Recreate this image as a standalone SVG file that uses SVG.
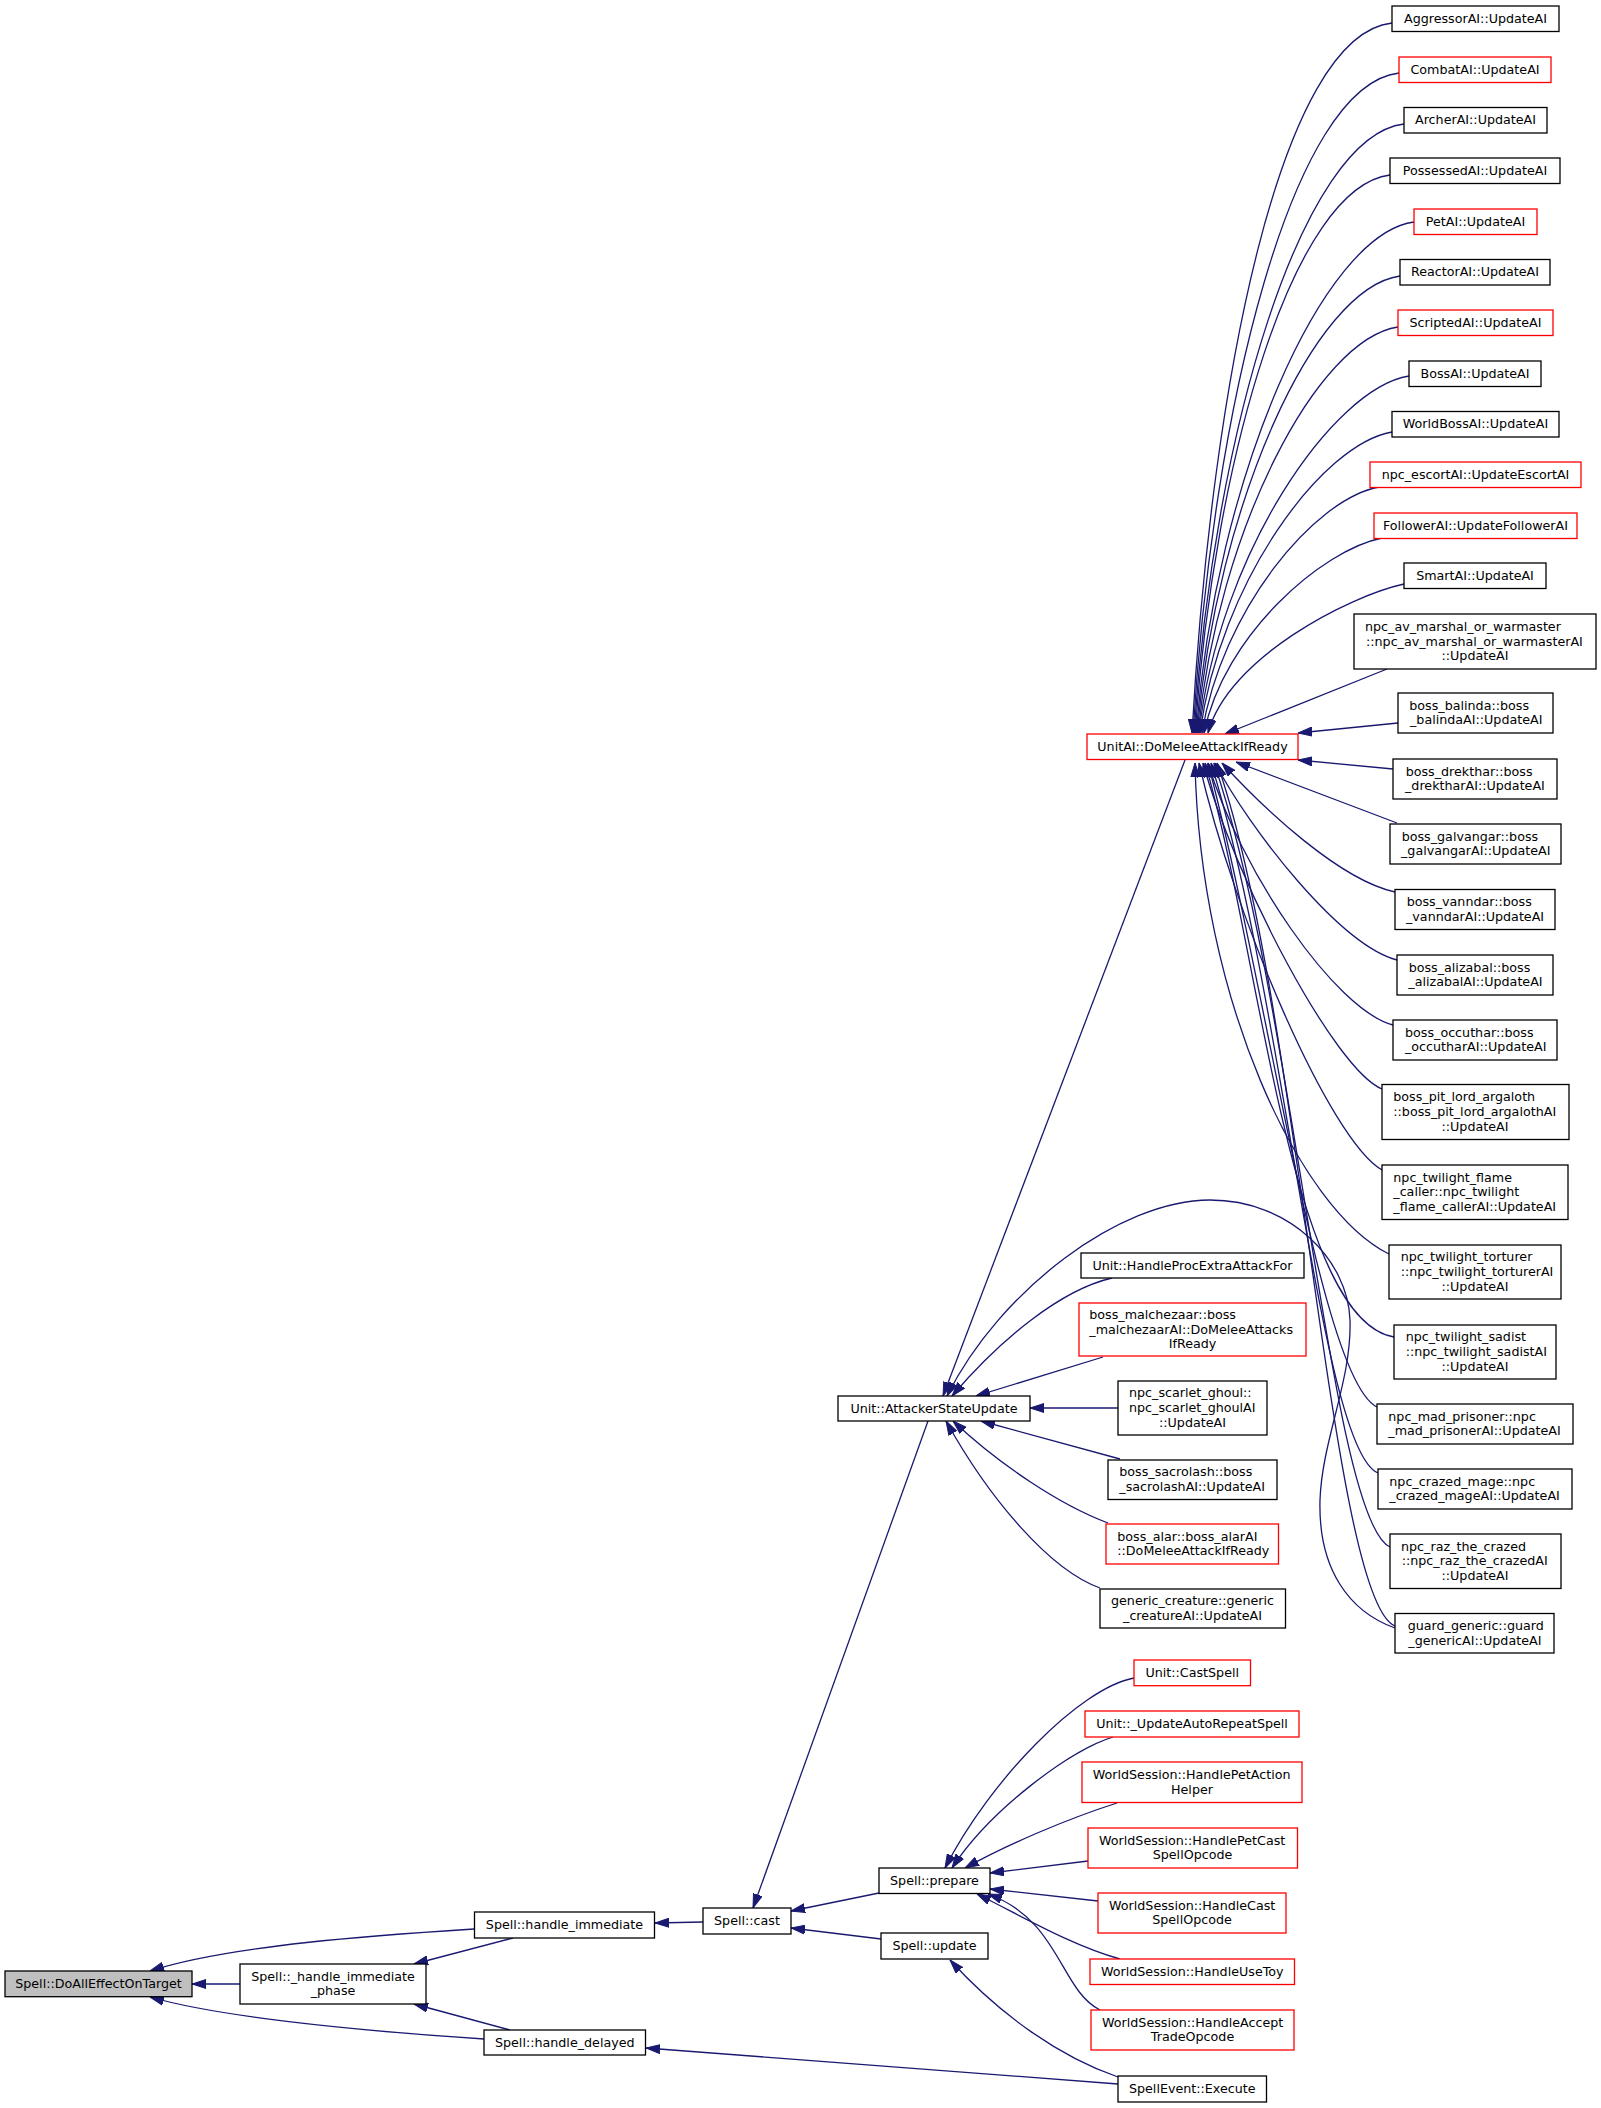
<svg xmlns="http://www.w3.org/2000/svg" width="1601" height="2108" viewBox="0 0 1601 2108">
<style>
.e{fill:none;stroke:#191970;stroke-width:1.3}
.nb{fill:#fff;stroke:#000;stroke-width:1.3}
.nr{fill:#fff;stroke:#ff0000;stroke-width:1.3}
.ng{fill:#bfbfbf;stroke:#000;stroke-width:1.3}
text{font-family:"DejaVu Sans","Liberation Sans",sans-serif;font-size:12.7px;fill:#000}
.m{text-anchor:middle}
</style>
<defs>
<marker id="a" markerUnits="userSpaceOnUse" markerWidth="14" markerHeight="10" viewBox="0 0 14 10" refX="14" refY="5" orient="auto"><path d="M0,0.5 L14,5 L0,9.5 z" fill="#191970" stroke="#191970" stroke-width="1"/></marker>
</defs>
<rect width="1601" height="2108" fill="#fff"/>
<g id="edges">
<path class="e" marker-end="url(#a)" d="M1392,23 C1281,35 1212,378 1192,733"/>
<path class="e" marker-end="url(#a)" d="M1399,73 C1293,85 1213,403 1193,733"/>
<path class="e" marker-end="url(#a)" d="M1404,124 C1303,136 1214,428 1194,733"/>
<path class="e" marker-end="url(#a)" d="M1390,175 C1294,187 1215,454 1195,733"/>
<path class="e" marker-end="url(#a)" d="M1414,222 C1323,234 1216,477 1196,733"/>
<path class="e" marker-end="url(#a)" d="M1400,276 C1314,288 1217,504 1197,733"/>
<path class="e" marker-end="url(#a)" d="M1398,327 C1317,339 1218,530 1198,733"/>
<path class="e" marker-end="url(#a)" d="M1409,376 C1333,388 1219,554 1199,733"/>
<path class="e" marker-end="url(#a)" d="M1392,432 C1322,444 1220,582 1200,733"/>
<path class="e" marker-end="url(#a)" d="M1379,487 C1314,499 1222,610 1202,733"/>
<path class="e" marker-end="url(#a)" d="M1382,538 C1322,550 1224,635 1204,733"/>
<path class="e" marker-end="url(#a)" d="M1404,584 C1349,596 1228,658 1208,733"/>
<path class="e" marker-end="url(#a)" d="M1387,669 L1225,734"/>
<path class="e" marker-end="url(#a)" d="M1398,723 L1298,733"/>
<path class="e" marker-end="url(#a)" d="M1393,769 L1298,760"/>
<path class="e" marker-end="url(#a)" d="M1397,823 L1236,762"/>
<path class="e" marker-end="url(#a)" d="M1395,892 C1340,880 1265,810 1222,763"/>
<path class="e" marker-end="url(#a)" d="M1397,960 C1340,945 1250,830 1215,763"/>
<path class="e" marker-end="url(#a)" d="M1393,1025 C1335,1010 1240,870 1208,763"/>
<path class="e" marker-end="url(#a)" d="M1382,1089 C1335,1070 1235,880 1203,763"/>
<path class="e" marker-end="url(#a)" d="M1382,1170 C1330,1140 1235,920 1199,763"/>
<path class="e" marker-end="url(#a)" d="M1389,1254 C1300,1210 1200,1000 1195,763"/>
<path class="e" marker-end="url(#a)" d="M1394,1337 C1290,1320 1260,950 1205,763"/>
<path class="e" marker-end="url(#a)" d="M1377,1407 C1320,1380 1270,1000 1208,763"/>
<path class="e" marker-end="url(#a)" d="M1378,1473 C1320,1450 1285,1000 1211,763"/>
<path class="e" marker-end="url(#a)" d="M1390,1547 C1330,1520 1295,1000 1214,763"/>
<path class="e" marker-end="url(#a)" d="M1395,1626 C1330,1600 1300,1000 1217,763"/>
<path class="e" marker-end="url(#a)" d="M1185,760 L943,1396"/>
<path class="e" marker-end="url(#a)" d="M1112,1278 C1060,1290 1000,1340 952,1396"/>
<path class="e" marker-end="url(#a)" d="M1103,1357 L976,1396"/>
<path class="e" marker-end="url(#a)" d="M1118,1408 L1030,1408"/>
<path class="e" marker-end="url(#a)" d="M1120,1459 L981,1421"/>
<path class="e" marker-end="url(#a)" d="M1108,1523 C1060,1505 1000,1465 953,1421"/>
<path class="e" marker-end="url(#a)" d="M1100,1588 C1050,1570 990,1500 946,1421"/>
<path class="e" marker-end="url(#a)" d="M1395,1628 C1350,1612 1318,1570 1320,1500 C1322,1440 1352,1380 1350,1320 C1348,1260 1290,1200 1210,1200 C1120,1200 1000,1290 947,1396"/>
<path class="e" marker-end="url(#a)" d="M1134,1678 C1080,1688 990,1780 945,1868"/>
<path class="e" marker-end="url(#a)" d="M1113,1737 C1070,1750 990,1810 952,1868"/>
<path class="e" marker-end="url(#a)" d="M1117,1803 C1070,1818 1010,1843 965,1868"/>
<path class="e" marker-end="url(#a)" d="M1088,1861 L990,1873"/>
<path class="e" marker-end="url(#a)" d="M1098,1901 L990,1889"/>
<path class="e" marker-end="url(#a)" d="M1120,1959 C1070,1945 1020,1915 977,1894"/>
<path class="e" marker-end="url(#a)" d="M1100,2010 C1060,1990 1060,1920 988,1894"/>
<path class="e" marker-end="url(#a)" d="M1118,2077 C1060,2057 1000,2015 950,1960"/>
<path class="e" marker-end="url(#a)" d="M879,1893 L791,1911"/>
<path class="e" marker-end="url(#a)" d="M881,1939 L791,1928"/>
<path class="e" marker-end="url(#a)" d="M928,1421 L753,1908"/>
<path class="e" marker-end="url(#a)" d="M703,1922 L655,1923"/>
<path class="e" marker-end="url(#a)" d="M1118,2084 L646,2048"/>
<path class="e" marker-end="url(#a)" d="M513,1938 L414,1964"/>
<path class="e" marker-end="url(#a)" d="M510,2030 L414,2004"/>
<path class="e" marker-end="url(#a)" d="M240,1984 L192,1984"/>
<path class="e" marker-end="url(#a)" d="M474,1929 C380,1935 230,1945 150,1971"/>
<path class="e" marker-end="url(#a)" d="M484,2039 C380,2032 230,2020 150,1997"/>
</g>
<g id="n1"><rect class="nb" x="1392" y="6" width="167" height="25.5"/><text class="m" x="1475.5" y="22.75">AggressorAI::UpdateAI</text></g>
<g id="n2"><rect class="nr" x="1399" y="57" width="152" height="25.5"/><text class="m" x="1475" y="73.75">CombatAI::UpdateAI</text></g>
<g id="n3"><rect class="nb" x="1404" y="107.5" width="143" height="25.5"/><text class="m" x="1475.5" y="124.25">ArcherAI::UpdateAI</text></g>
<g id="n4"><rect class="nb" x="1390" y="158" width="170" height="25.5"/><text class="m" x="1475" y="174.75">PossessedAI::UpdateAI</text></g>
<g id="n5"><rect class="nr" x="1414" y="209" width="123" height="25.5"/><text class="m" x="1475.5" y="225.75">PetAI::UpdateAI</text></g>
<g id="n6"><rect class="nb" x="1400" y="259.5" width="150" height="25.5"/><text class="m" x="1475" y="276.25">ReactorAI::UpdateAI</text></g>
<g id="n7"><rect class="nr" x="1398" y="310" width="155" height="25.5"/><text class="m" x="1475.5" y="326.75">ScriptedAI::UpdateAI</text></g>
<g id="n8"><rect class="nb" x="1409" y="361" width="132" height="25.5"/><text class="m" x="1475" y="377.75">BossAI::UpdateAI</text></g>
<g id="n9"><rect class="nb" x="1392" y="411.5" width="167" height="25.5"/><text class="m" x="1475.5" y="428.25">WorldBossAI::UpdateAI</text></g>
<g id="n10"><rect class="nr" x="1370" y="462" width="211" height="25.5"/><text class="m" x="1475.5" y="478.75">npc_escortAI::UpdateEscortAI</text></g>
<g id="n11"><rect class="nr" x="1374" y="513" width="203" height="25.5"/><text class="m" x="1475.5" y="529.75">FollowerAI::UpdateFollowerAI</text></g>
<g id="n12"><rect class="nb" x="1404" y="563" width="142" height="25.5"/><text class="m" x="1475" y="579.75">SmartAI::UpdateAI</text></g>
<g id="n13"><rect class="nb" x="1354" y="614" width="242" height="55"/><text x="1365" y="630.9">npc_av_marshal_or_warmaster</text><text x="1366" y="645.5">::npc_av_marshal_or_warmasterAI</text><text class="m" x="1475" y="660.1">::UpdateAI</text></g>
<g id="n14"><rect class="nb" x="1398" y="693" width="155" height="40"/><text x="1409.3" y="709.7">boss_balinda::boss</text><text x="1410" y="724.3">_balindaAI::UpdateAI</text></g>
<g id="n15"><rect class="nb" x="1393" y="759" width="164" height="40"/><text x="1405.7" y="775.7">boss_drekthar::boss</text><text x="1405" y="790.3">_drektharAI::UpdateAI</text></g>
<g id="n16"><rect class="nb" x="1390" y="824" width="171" height="40"/><text x="1401.7" y="840.7">boss_galvangar::boss</text><text x="1401" y="855.3">_galvangarAI::UpdateAI</text></g>
<g id="n17"><rect class="nb" x="1395" y="889.5" width="160" height="40"/><text x="1406.7" y="906.2">boss_vanndar::boss</text><text x="1406" y="920.8">_vanndarAI::UpdateAI</text></g>
<g id="n18"><rect class="nb" x="1397" y="955" width="156" height="40"/><text x="1408.7" y="971.7">boss_alizabal::boss</text><text x="1408.3" y="986.3">_alizabalAI::UpdateAI</text></g>
<g id="n19"><rect class="nb" x="1393" y="1020" width="164" height="40"/><text x="1405" y="1036.7">boss_occuthar::boss</text><text x="1405" y="1051.3">_occutharAI::UpdateAI</text></g>
<g id="n20"><rect class="nb" x="1382" y="1084.5" width="187" height="55"/><text x="1393.3" y="1101.4">boss_pit_lord_argaloth</text><text x="1393.3" y="1116">::boss_pit_lord_argalothAI</text><text class="m" x="1475" y="1130.6">::UpdateAI</text></g>
<g id="n21"><rect class="nb" x="1382" y="1165" width="186" height="54.5"/><text x="1393.3" y="1181.65">npc_twilight_flame</text><text x="1393.3" y="1196.25">_caller::npc_twilight</text><text x="1393.3" y="1210.85">_flame_callerAI::UpdateAI</text></g>
<g id="n22"><rect class="nb" x="1389" y="1245" width="172" height="54"/><text x="1400.7" y="1261.4">npc_twilight_torturer</text><text x="1400.7" y="1276">::npc_twilight_torturerAI</text><text class="m" x="1475" y="1290.6">::UpdateAI</text></g>
<g id="n23"><rect class="nb" x="1394" y="1325" width="162" height="54"/><text x="1405.7" y="1341.4">npc_twilight_sadist</text><text x="1405.7" y="1356">::npc_twilight_sadistAI</text><text class="m" x="1475" y="1370.6">::UpdateAI</text></g>
<g id="n24"><rect class="nb" x="1377" y="1404" width="196" height="40"/><text x="1388.3" y="1420.7">npc_mad_prisoner::npc</text><text x="1388.3" y="1435.3">_mad_prisonerAI::UpdateAI</text></g>
<g id="n25"><rect class="nb" x="1378" y="1469" width="194" height="40"/><text x="1389.3" y="1485.7">npc_crazed_mage::npc</text><text x="1389.3" y="1500.3">_crazed_mageAI::UpdateAI</text></g>
<g id="n26"><rect class="nb" x="1390" y="1534" width="171" height="54.5"/><text x="1401" y="1550.65">npc_raz_the_crazed</text><text x="1401.7" y="1565.25">::npc_raz_the_crazedAI</text><text class="m" x="1475" y="1579.85">::UpdateAI</text></g>
<g id="n27"><rect class="nb" x="1395" y="1613.5" width="159" height="39.5"/><text x="1407.7" y="1629.95">guard_generic::guard</text><text x="1408.3" y="1644.55">_genericAI::UpdateAI</text></g>
<g id="n28"><rect class="nr" x="1087" y="734" width="211" height="25.5"/><text class="m" x="1192.5" y="750.75">UnitAI::DoMeleeAttackIfReady</text></g>
<g id="n29"><rect class="nb" x="1081" y="1253" width="223" height="25"/><text class="m" x="1192.5" y="1269.5">Unit::HandleProcExtraAttackFor</text></g>
<g id="n30"><rect class="nr" x="1079" y="1303" width="227" height="53"/><text x="1089.3" y="1318.9">boss_malchezaar::boss</text><text x="1089.3" y="1333.5">_malchezaarAI::DoMeleeAttacks</text><text class="m" x="1192.5" y="1348.1">IfReady</text></g>
<g id="n31"><rect class="nb" x="1118" y="1381" width="149" height="54"/><text x="1129" y="1397.4">npc_scarlet_ghoul::</text><text x="1129" y="1412">npc_scarlet_ghoulAI</text><text class="m" x="1192.5" y="1426.6">::UpdateAI</text></g>
<g id="n32"><rect class="nb" x="1108" y="1460" width="169" height="39.5"/><text x="1119.3" y="1476.45">boss_sacrolash::boss</text><text x="1119.3" y="1491.05">_sacrolashAI::UpdateAI</text></g>
<g id="n33"><rect class="nr" x="1106" y="1524" width="172.5" height="40"/><text x="1117.3" y="1540.7">boss_alar::boss_alarAI</text><text x="1117.3" y="1555.3">::DoMeleeAttackIfReady</text></g>
<g id="n34"><rect class="nb" x="1100" y="1589" width="185.5" height="39"/><text class="m" x="1192.5" y="1605.2">generic_creature::generic</text><text class="m" x="1192.5" y="1619.8">_creatureAI::UpdateAI</text></g>
<g id="n35"><rect class="nr" x="1134" y="1660" width="116.5" height="25.7"/><text class="m" x="1192.25" y="1676.85">Unit::CastSpell</text></g>
<g id="n36"><rect class="nr" x="1085" y="1711" width="214" height="26"/><text class="m" x="1192" y="1728">Unit::_UpdateAutoRepeatSpell</text></g>
<g id="n37"><rect class="nr" x="1082" y="1762" width="220" height="40.5"/><text x="1092.7" y="1778.95">WorldSession::HandlePetAction</text><text class="m" x="1192" y="1793.55">Helper</text></g>
<g id="n38"><rect class="nr" x="1088" y="1828" width="209.5" height="40"/><text x="1099" y="1844.7">WorldSession::HandlePetCast</text><text class="m" x="1192.5" y="1859.3">SpellOpcode</text></g>
<g id="n39"><rect class="nr" x="1098" y="1893" width="188" height="40"/><text x="1109" y="1909.7">WorldSession::HandleCast</text><text class="m" x="1192" y="1924.3">SpellOpcode</text></g>
<g id="n40"><rect class="nr" x="1090" y="1959" width="204.5" height="25.5"/><text class="m" x="1192.25" y="1975.75">WorldSession::HandleUseToy</text></g>
<g id="n41"><rect class="nr" x="1091" y="2010" width="203" height="40"/><text x="1102" y="2026.7">WorldSession::HandleAccept</text><text class="m" x="1192.5" y="2041.3">TradeOpcode</text></g>
<g id="n42"><rect class="nb" x="1118" y="2076" width="148.5" height="26"/><text class="m" x="1192.25" y="2093">SpellEvent::Execute</text></g>
<g id="n43"><rect class="nb" x="838" y="1396" width="192" height="25"/><text class="m" x="934" y="1412.5">Unit::AttackerStateUpdate</text></g>
<g id="n44"><rect class="nb" x="879" y="1868" width="111" height="25.5"/><text class="m" x="934.5" y="1884.75">Spell::prepare</text></g>
<g id="n45"><rect class="nb" x="881" y="1933" width="107" height="26"/><text class="m" x="934.5" y="1950">Spell::update</text></g>
<g id="n46"><rect class="nb" x="703" y="1908" width="88" height="26"/><text class="m" x="747" y="1925">Spell::cast</text></g>
<g id="n47"><rect class="nb" x="474.5" y="1912" width="180" height="26"/><text class="m" x="564.5" y="1929">Spell::handle_immediate</text></g>
<g id="n48"><rect class="nb" x="240" y="1964" width="186" height="40"/><text class="m" x="333" y="1980.7">Spell::_handle_immediate</text><text class="m" x="333" y="1995.3">_phase</text></g>
<g id="n49"><rect class="nb" x="484" y="2030" width="161.5" height="25"/><text class="m" x="564.75" y="2046.5">Spell::handle_delayed</text></g>
<g id="n50"><rect class="ng" x="5" y="1971" width="187" height="25.7"/><text class="m" x="98.5" y="1987.85">Spell::DoAllEffectOnTarget</text></g>
</svg>
